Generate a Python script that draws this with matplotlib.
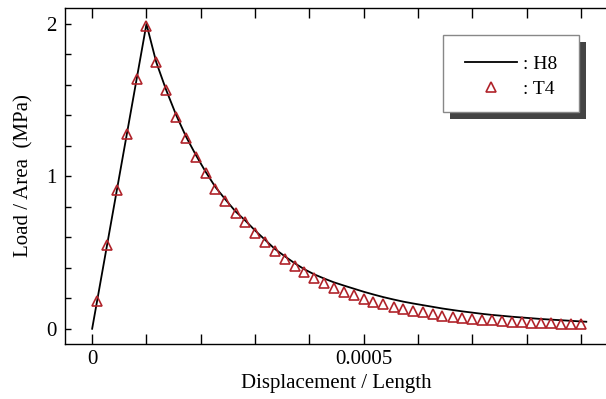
''' load_displacement.py

load / area against displacement / length, H8 line vs T4 points
'''

import matplotlib.pyplot as plt
from matplotlib.patches import Rectangle
from matplotlib.ticker import MultipleLocator, FixedLocator

plt.rcParams['font.family'] = ['Liberation Serif', 'DejaVu Serif']

# displacement / length (x 1e-5) and load / area (MPa)
H8_disp = [0.0, 10.0, 11.8, 13.6, 15.5, 17.3, 19.1, 20.9, 22.7, 24.5,
           26.4, 28.2, 30.0, 31.8, 33.6, 35.5, 37.3, 39.1, 40.9, 42.7,
           44.5, 46.4, 48.2, 50.0, 51.8, 53.6, 55.5, 57.3, 59.1, 60.9,
           62.7, 64.5, 66.4, 68.2, 70.0, 71.8, 73.6, 75.5, 77.3, 79.1,
           80.9, 82.7, 84.5, 86.4, 88.2, 90.0, 91.0]
H8_load = [0.0, 2.0, 1.75, 1.57, 1.40, 1.26, 1.14, 1.03, 0.93, 0.85,
           0.77, 0.71, 0.645, 0.585, 0.525, 0.475, 0.43, 0.39, 0.357, 0.33,
           0.305, 0.283, 0.263, 0.243, 0.225, 0.208, 0.192, 0.178, 0.166, 0.155,
           0.144, 0.133, 0.123, 0.114, 0.106, 0.098, 0.091, 0.085, 0.079, 0.074,
           0.069, 0.064, 0.06, 0.056, 0.052, 0.048, 0.046]

T4_disp = [0.9, 2.7, 4.5, 6.4, 8.2, 10.0, 11.8, 13.6, 15.5, 17.3,
           19.1, 20.9, 22.7, 24.5, 26.4, 28.2, 30.0, 31.8, 33.6, 35.5,
           37.3, 39.1, 40.9, 42.7, 44.5, 46.4, 48.2, 50.0, 51.8, 53.6,
           55.5, 57.3, 59.1, 60.9, 62.7, 64.5, 66.4, 68.2, 70.0, 71.8,
           73.6, 75.5, 77.3, 79.1, 80.9, 82.7, 84.5, 86.4, 88.2, 90.0]
T4_load = [0.18, 0.55, 0.91, 1.28, 1.64, 1.99, 1.75, 1.57, 1.39, 1.25,
           1.13, 1.02, 0.92, 0.84, 0.76, 0.70, 0.63, 0.57, 0.51, 0.46,
           0.41, 0.37, 0.33, 0.30, 0.27, 0.24, 0.22, 0.197, 0.177, 0.16,
           0.145, 0.13, 0.118, 0.107, 0.096, 0.087, 0.079, 0.072, 0.066, 0.06,
           0.055, 0.05, 0.046, 0.043, 0.039, 0.037, 0.035, 0.033, 0.031, 0.028]

fig = plt.figure(figsize=(6.06, 3.99), dpi=100)
ax = fig.add_axes([65/606, 55/399, 543/606, 336/399])

ax.plot([d*1e-5 for d in H8_disp], H8_load, 'k-', lw=1.3, label=': H8')
ax.plot([d*1e-5 for d in T4_disp], T4_load, ls='none', marker='^', ms=6.5,
        mfc='none', mec='#b0232a', mew=1.2, label=': T4')

ax.set_xlim(-0.00005, 0.00095)
ax.set_ylim(-0.1, 2.105)

ax.xaxis.set_major_locator(FixedLocator([0, 0.0005]))
ax.xaxis.set_minor_locator(MultipleLocator(0.0001))
ax.xaxis.set_major_formatter(lambda v, p: '0' if v == 0 else '%g' % v)
ax.yaxis.set_major_locator(MultipleLocator(1))
ax.yaxis.set_minor_locator(MultipleLocator(0.2))

ax.tick_params(which='both', direction='in', top=True, right=False,
               labelsize=15, width=1)
ax.tick_params(axis='x', which='both', length=7, pad=4)
ax.tick_params(axis='y', which='both', length=4, pad=6)
for s in ax.spines.values():
    s.set_linewidth(1)

ax.set_xlabel('Displacement / Length', fontsize=15, labelpad=4)
ax.set_ylabel('Load / Area  (MPa)', fontsize=15, labelpad=9)

# legend box with a dark drop shadow
ax.add_patch(Rectangle((0.6961 + 0.0129, 0.6905 - 0.0208), 0.2505, 0.2291,
                       transform=ax.transAxes, fc='#444444', ec='none', zorder=5))
ax.add_patch(Rectangle((0.6961, 0.6905), 0.2505, 0.2291, transform=ax.transAxes,
                       fc='white', ec='#888888', lw=1, zorder=6))
leg = ax.legend(loc='center left', bbox_to_anchor=(0.7366, 0.796), frameon=False,
                fontsize=14, borderpad=0, borderaxespad=0, handlelength=2.67,
                handletextpad=0.3, labelspacing=0.35, numpoints=1)
leg.set_zorder(7)

plt.savefig('out.png', dpi=100)
